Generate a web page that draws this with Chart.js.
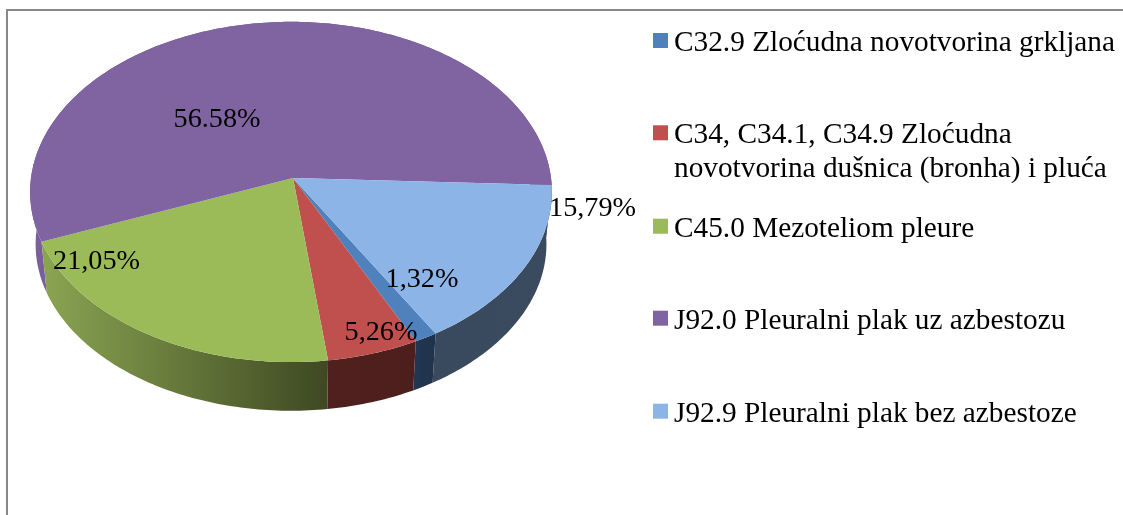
<!DOCTYPE html>
<html><head><meta charset="utf-8">
<style>html,body{margin:0;padding:0;background:#fff;overflow:hidden}canvas{display:block}</style>
<script src="https://cdn.jsdelivr.net/npm/chart.js@4"></script>
</head><body><canvas id="c" width="1123" height="515"></canvas>
<script>
const categories = ["C32.9 Zloćudna novotvorina grkljana",
  ["C34, C34.1, C34.9 Zloćudna","novotvorina dušnica (bronha) i pluća"],
  "C45.0 Mezoteliom pleure","J92.0 Pleuralni plak uz azbestozu","J92.9 Pleuralni plak bez azbestoze"];
const values = [1.32, 5.26, 21.05, 56.58, 15.79];
const valueLabels = ["1,32%","5,26%","21,05%","56.58%","15,79%"];
const topColors = ["#4F81BD","#C0504D","#9BBB59","#8064A2","#8CB4E6"];
const wallLeft = ["#213650","#4F201E","#8AA552","#7A5F9C","#3A4A5E"];
const wallRight = ["#1F334C","#4C1E1C","#3E4822","#6E5590","#3B4B5F"];

const LEGEND_FONT = '29.3px "Liberation Serif"';
const LABEL_FONT = '28.2px "Liberation Serif"';
const pie3d = {
  id:'pie3d',
  beforeDraw(chart){
    const c=chart.ctx;
    c.fillStyle='#888';
    c.fillRect(6,9,1117,2);
    c.fillRect(6,9,2,506);
  },
  beforeDatasetsDraw(chart,args,o){
    const c=chart.ctx, arcs=chart.getDatasetMeta(0).data;
    const tilt=o.tilt,k=o.persp,m=o.perspX;
    const proj=(arc,ang,s,d)=>{
      const u=Math.cos(ang),v=Math.sin(ang),w=1-k*v+m*u,R=arc.outerRadius;
      return [arc.x+s*R*u/w, arc.y+d+s*R*tilt*v/w];
    };
    const rim=(arc,a0,a1,s,d,rev)=>{
      const n=Math.max(4,Math.ceil(Math.abs(a1-a0)*60)),pts=[];
      for(let i=0;i<=n;i++)pts.push(proj(arc,a0+(a1-a0)*i/n,s,d));
      return rev?pts.reverse():pts;
    };
    // outer walls: back-most slice first
    const order=[3,4,0,1,2];
    order.forEach(i=>{
      const a=arcs[i];
      const t=rim(a,a.startAngle,a.endAngle,1,0), b=rim(a,a.startAngle,a.endAngle,o.wallScale,o.wallDepth,true);
      const xs=t.concat(b).filter(p=>p[1]>a.y).map(p=>p[0]);
      const x0=Math.min(...xs),x1=Math.max(...xs);
      const g=c.createLinearGradient(x0,0,x1,0);
      g.addColorStop(0,wallLeft[i]);g.addColorStop(1,wallRight[i]);
      c.beginPath();t.concat(b).forEach((p,j)=>j?c.lineTo(p[0],p[1]):c.moveTo(p[0],p[1]));c.closePath();
      c.fillStyle=g;c.fill();
    });
    arcs.forEach((a,i)=>{
      c.beginPath();c.moveTo(a.x,a.y);
      rim(a,a.startAngle,a.endAngle,1,0).forEach(p=>c.lineTo(p[0],p[1]));
      c.closePath();c.fillStyle=topColors[i];c.fill();
    });
    return false;
  },
  afterDraw(chart,args,o){
    const c=chart.ctx,a=chart.getDatasetMeta(0).data[0];
    c.fillStyle='#000';c.textBaseline='alphabetic';
    c.font=LABEL_FONT;c.textAlign='center';
    valueLabels.forEach((t,i)=>c.fillText(t,a.x+o.labelAt[i][0],a.y+o.labelAt[i][1]));
    c.font=LEGEND_FONT;c.textAlign='left';
    categories.forEach((t,i)=>{
      const y=o.legendY[i];
      c.fillStyle=topColors[i];c.fillRect(o.legendX,y-17,15,15);
      c.fillStyle='#000';
      [].concat(t).forEach((s,j)=>c.fillText(s,o.legendX+21,y+1+j*33.4));
    });
  }
};
new Chart(document.getElementById('c'),{
  type:'pie',
  data:{labels:categories.map(t=>[].concat(t).join(' ')),datasets:[{data:values,backgroundColor:topColors,borderWidth:0}]},
  plugins:[pie3d],
  options:{
    responsive:false,animation:false,rotation:149.2,radius:260,
    layout:{padding:{left:0,right:537,top:0,bottom:159}},
    plugins:{legend:{display:false},tooltip:{enabled:false},
      pie3d:{tilt:0.65,persp:0.082,perspX:0.0077,wallScale:0.979,wallDepth:52.5,
        legendX:653,legendY:[50,142.3,235.7,327.7,420.7],
        labelAt:[[129,109],[88,162],[-196.5,90.7],[-76,-51],[299.5,38]]}}
  }
});
</script></body></html>
